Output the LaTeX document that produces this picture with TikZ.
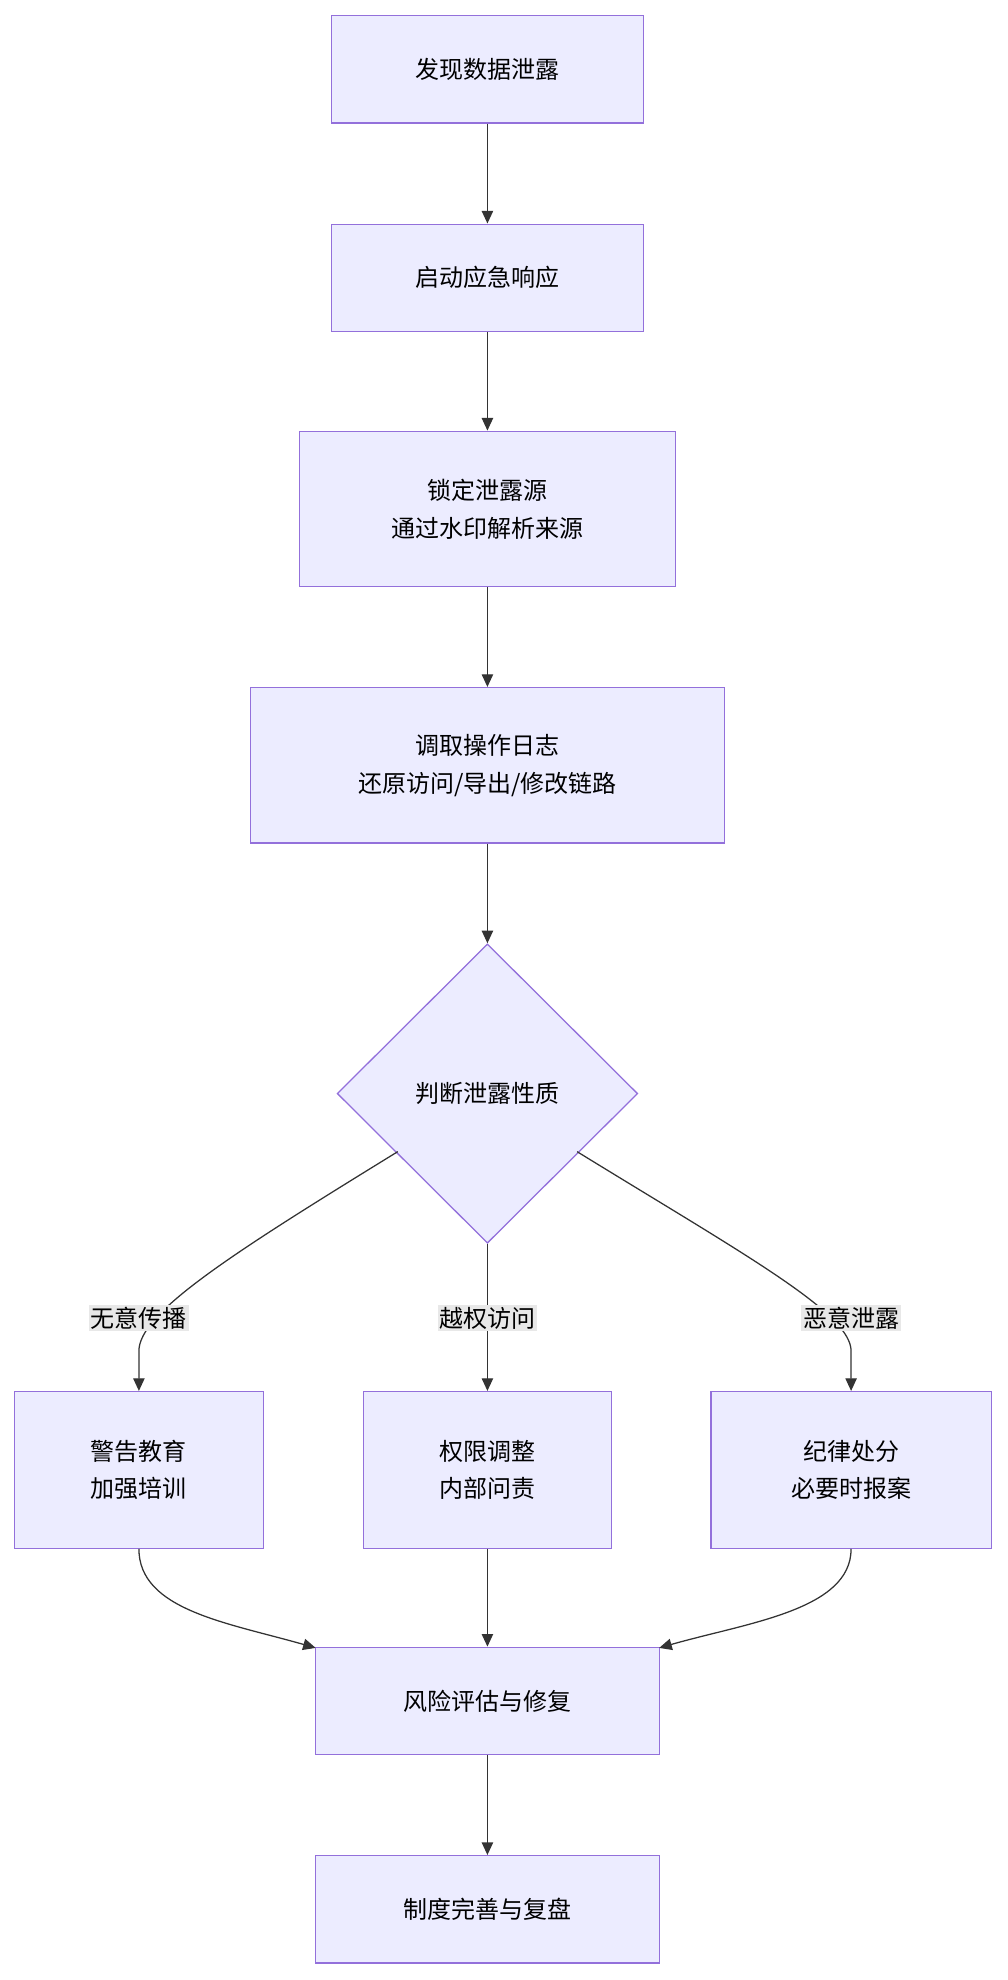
\documentclass[tikz,border=0pt]{standalone}
\usepackage{fontspec}
\newfontfamily\cjk{Noto Sans CJK SC}
\usetikzlibrary{shapes.geometric,arrows.meta}
\definecolor{boxfill}{HTML}{ECECFF}
\definecolor{boxdraw}{HTML}{9370DB}
\definecolor{edge}{HTML}{333333}
\definecolor{lblbg}{HTML}{E8E8E8}
\begin{document}
\begin{tikzpicture}[x=1pt,y=-1pt,
  box/.style={draw=boxdraw,fill=boxfill,line width=1pt,rectangle,minimum width=#1,align=center,font=\cjk\fontsize{19}{30}\selectfont},
  dec/.style={draw=boxdraw,fill=boxfill,line width=1pt,diamond,aspect=1,minimum width=238,minimum height=237,inner sep=0pt,font=\cjk\fontsize{19}{30}\selectfont},
  lbl/.style={fill=lblbg,inner sep=1.5pt,font=\cjk\fontsize{19}{24}\selectfont},
  arr/.style={draw=edge,line width=1pt,-{Triangle[length=10pt,width=9pt]}}]
\useasboundingbox (0,0) rectangle (798,1568);
\node[box=247,minimum height=85] (a) at (386,55) {发现数据泄露};
\node[box=247,minimum height=85] (b) at (386,220) {启动应急响应};
\node[box=298,minimum height=123] (c) at (386,403) {锁定泄露源\\通过水印解析来源};
\node[box=375,minimum height=123] (d) at (386,606) {调取操作日志\\还原访问/导出/修改链路};
\node[dec] (e) at (386,866) {判断泄露性质};
\node[box=197,minimum height=124] (l) at (110,1164) {警告教育\\加强培训};
\node[box=196,minimum height=124] (m) at (386,1164) {权限调整\\内部问责};
\node[box=222,minimum height=124] (r) at (674,1164) {纪律处分\\必要时报案};
\node[box=272,minimum height=85] (f) at (386,1347) {风险评估与修复};
\node[box=272,minimum height=85] (g) at (386,1512) {制度完善与复盘};
\draw[arr] (a) -- (b);
\draw[arr] (b) -- (c);
\draw[arr] (c) -- (d);
\draw[arr] (d) -- (e);
\draw[arr] (e.south) -- (m.north);
\draw[arr] (315,912) .. controls (180,995) and (110,1040) .. (110,1070) -- (l.north);
\draw[arr] (457,912) .. controls (592,995) and (674,1040) .. (674,1070) -- (r.north);
\node[lbl] (t1) at (110,1044) {无意传播};
\node[lbl] (t2) at (386,1044) {越权访问};
\node[lbl] (t3) at (674,1044) {恶意泄露};
\draw[arr] (l.south) .. controls (110,1275) and (180,1285) .. (250,1305);
\draw[arr] (r.south) .. controls (674,1275) and (592,1285) .. (522,1305);
\draw[arr] (m) -- (f);
\draw[arr] (f) -- (g);
\end{tikzpicture}
\end{document}
